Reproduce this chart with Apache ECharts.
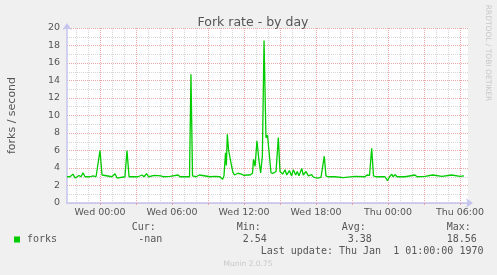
<!DOCTYPE html>
<html><head><meta charset="utf-8">
<script src="https://cdn.jsdelivr.net/npm/echarts@6/dist/echarts.min.js"></script>
<style>html,body{margin:0;padding:0;background:#f0f0f0}#c{width:497px;height:275px}</style>
</head><body><div id="c"></div>
<script>
// hours relative to Wed 00:00
const hours = [-2.75,-2.5,-2.25,-2.08,-1.92,-1.75,-1.58,-1.42,-1.25,-0.83,-0.58,-0.33,-0.17,0,0.17,0.33,1.0,1.25,1.42,1.58,2.08,2.25,2.42,3.17,3.5,3.67,3.88,4.04,4.54,4.67,5.08,5.25,5.83,6.5,6.67,7.46,7.58,7.71,8.0,8.29,8.42,9.17,9.58,10.0,10.22,10.33,10.46,10.53,10.61,10.71,10.83,10.97,11.08,11.21,11.33,11.5,11.63,11.79,12.0,12.25,12.5,12.71,12.79,12.92,13.08,13.25,13.39,13.53,13.67,13.83,13.96,14.11,14.25,14.44,14.67,14.79,14.86,15.0,15.22,15.42,15.56,15.78,15.97,16.11,16.31,16.44,16.58,16.81,16.94,17.17,17.36,17.5,17.64,17.75,17.92,18.17,18.42,18.54,18.69,18.83,19.0,19.58,20.28,20.42,21.25,22.08,22.25,22.46,22.64,22.79,23.0,23.75,23.96,24.13,24.31,24.42,24.58,24.75,25.42,26.25,26.42,27.08,27.72,27.88,28.5,29.31,29.46,30.0,30.33];
const forks = [3.0,3.0,3.3,2.85,3.0,3.15,3.0,3.45,3.0,3.0,3.1,3.0,3.1,6.0,3.2,3.0,3.0,3.35,2.85,3.0,3.0,6.0,3.0,3.0,3.2,3.0,3.35,3.0,3.15,3.0,3.1,3.0,3.05,3.2,3.0,3.0,14.7,3.1,3.0,3.2,3.0,3.0,3.05,3.0,2.7,3.1,5.75,4.3,7.85,6.1,5.2,4.2,3.5,3.2,3.3,3.4,3.55,3.3,3.15,3.2,3.2,3.4,5.0,4.2,7.1,4.8,3.45,5.35,18.56,7.45,7.75,7.75,3.45,3.4,3.6,3.45,7.47,3.6,3.3,3.8,3.2,3.7,3.1,3.8,3.2,3.6,3.1,3.95,3.2,3.6,3.1,3.2,3.25,3.0,2.9,2.85,2.95,3.1,5.35,3.1,3.0,3.0,2.9,3.0,3.05,3.0,3.2,3.15,6.25,3.1,3.0,3.0,2.55,3.0,3.3,3.0,3.25,3.0,3.0,3.2,3.0,3.05,3.2,3.0,3.05,3.2,3.0,3.05,3.1];
const tickHours = [0,6,12,18,24,30];
const tickLabels = ['Wed 00:00','Wed 06:00','Wed 12:00','Wed 18:00','Thu 00:00','Thu 06:00'];
const seriesName = 'forks';
const statNames = ['Cur:','Min:','Avg:','Max:'];
const statValues = ['-nan','2.54','3.38','18.56'];
const lastUpdate = 'Last update: Thu Jan  1 01:00:00 1970';

const xMin = -2.75, xMax = 30.6667;
const majorX = [], minorX = [];
for (let h = -2; h <= 30; h++) { (h % 3 === 0 ? majorX : minorX).push(h); }
const majorY = [], minorY = [];
for (let v = 0; v <= 20; v++) { (v % 2 === 0 ? majorY : minorY).push(v); }

const MAJ = '#eba6a6';
const MIN = '#d6d6d6';
const AX = '#c4c4ee';
const TXT = '#555';
const mono = '"DejaVu Sans Mono", monospace';

const chart = echarts.init(document.getElementById('c'), null, {renderer: 'canvas'});
chart.setOption({
  animation: false,
  backgroundColor: '#f0f0f0',
  title: {text: 'Fork rate - by day', left: 248, top: 11, textAlign: 'center',
    textStyle: {fontFamily: 'DejaVu Sans', fontSize: 12.5, fontWeight: 'normal', color: TXT}},
  grid: {left: 67, right: 29, top: 28, bottom: 72, show: true, backgroundColor: '#fff', borderWidth: 0,
    containLabel: false, outerBoundsMode: 'none'},
  xAxis: [
    {type: 'value', position: 'bottom', min: xMin, max: xMax, gridIndex: 0, z: 1,
      axisLine: {show: false},
      axisTick: {show: false, customValues: minorX},
      axisLabel: {show: false},
      splitLine: {show: true, lineStyle: {color: MIN, type: [1, 1], width: 1}}},
    {type: 'value', position: 'bottom', min: xMin, max: xMax, gridIndex: 0, z: 2,
      axisLine: {show: true, onZero: false, lineStyle: {color: AX, width: 1.5},
        symbol: ['none', 'arrow'], symbolSize: [7, 7], symbolOffset: [0, 5]},
      axisTick: {show: true, customValues: majorX, length: 2, lineStyle: {color: MAJ}},
      axisLabel: {show: true, customValues: tickHours, margin: 5,
        fontFamily: 'DejaVu Sans', fontSize: 9.5, color: TXT,
        formatter: v => { const i = tickHours.indexOf(Math.round(v)); return i >= 0 ? tickLabels[i] : ''; }},
      splitLine: {show: true, lineStyle: {color: MAJ, type: [1, 1], width: 1}}}
  ],
  yAxis: [
    {type: 'value', position: 'left', min: 0, max: 20, z: 1,
      axisLine: {show: false}, axisTick: {show: false, customValues: minorY}, axisLabel: {show: false},
      splitLine: {show: true, lineStyle: {color: MIN, type: [1, 1], width: 1}}},
    {type: 'value', position: 'left', min: 0, max: 20, interval: 2, z: 2,
      name: 'forks / second', nameLocation: 'middle', nameRotate: 90, nameGap: 49,
      nameTextStyle: {fontFamily: 'DejaVu Sans', fontSize: 11, color: TXT},
      axisLine: {show: true, onZero: false, lineStyle: {color: AX, width: 1.5},
        symbol: ['none', 'arrow'], symbolSize: [7, 7], symbolOffset: [0, 5]},
      axisTick: {show: false},
      axisLabel: {show: true, margin: 7, fontFamily: 'DejaVu Sans', fontSize: 9.5, color: TXT},
      splitLine: {show: true, lineStyle: {color: MAJ, type: [1, 1], width: 1}}}
  ],
  series: [{
    name: seriesName, type: 'line', xAxisIndex: 1, yAxisIndex: 1, z: 5,
    data: hours.map((h, i) => [h, forks[i]]),
    showSymbol: false, symbol: 'none',
    lineStyle: {color: '#00cc00', width: 1.3}
  }],
  graphic: [
    {type: 'rect', shape: {x: 14, y: 236.5, width: 6, height: 6}, style: {fill: '#00cc00'}},
    {type: 'text', x: 27, y: 239.5, style: {text: seriesName, font: '10px ' + mono, fill: TXT, textVerticalAlign: 'middle'}},
    {type: 'text', x: 131.7, y: 227.7, style: {text: statNames[0], font: '10px ' + mono, fill: TXT, textVerticalAlign: 'middle'}},
    {type: 'text', x: 236.7, y: 227.7, style: {text: statNames[1], font: '10px ' + mono, fill: TXT, textVerticalAlign: 'middle'}},
    {type: 'text', x: 341.7, y: 227.7, style: {text: statNames[2], font: '10px ' + mono, fill: TXT, textVerticalAlign: 'middle'}},
    {type: 'text', x: 446.7, y: 227.7, style: {text: statNames[3], font: '10px ' + mono, fill: TXT, textVerticalAlign: 'middle'}},
    {type: 'text', x: 138.3, y: 239.5, style: {text: statValues[0], font: '10px ' + mono, fill: TXT, textVerticalAlign: 'middle'}},
    {type: 'text', x: 242.7, y: 239.5, style: {text: statValues[1], font: '10px ' + mono, fill: TXT, textVerticalAlign: 'middle'}},
    {type: 'text', x: 347.7, y: 239.5, style: {text: statValues[2], font: '10px ' + mono, fill: TXT, textVerticalAlign: 'middle'}},
    {type: 'text', x: 446.7, y: 239.5, style: {text: statValues[3], font: '10px ' + mono, fill: TXT, textVerticalAlign: 'middle'}},
    {type: 'text', x: 260.7, y: 251, style: {text: lastUpdate, font: '10px ' + mono, fill: TXT, textVerticalAlign: 'middle'}},
    {type: 'text', x: 248, y: 264.5, style: {text: 'Munin 2.0.75', font: '7.5px "DejaVu Sans"', fill: '#c8c8c8', textAlign: 'center', textVerticalAlign: 'middle'}},
    {type: 'text', x: 487.5, y: 53, rotation: -Math.PI / 2, style: {text: 'RRDTOOL / TOBI OETIKER', font: '7.5px "DejaVu Sans"', fill: '#c8c8c8', textAlign: 'center', textVerticalAlign: 'middle'}}
  ]
});
</script></body></html>
